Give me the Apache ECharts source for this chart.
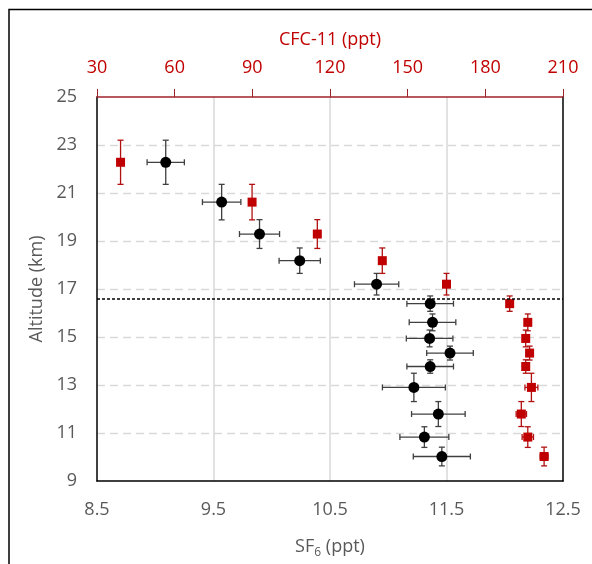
<!DOCTYPE html>
<html>
<head>
<meta charset="utf-8">
<script src="https://cdn.jsdelivr.net/npm/echarts@6/dist/echarts.min.js"></script>
<style>
  html, body { margin: 0; padding: 0; background: #fff; }
  #chart { width: 592px; height: 564px; }
</style>
</head>
<body>
<div id="chart"></div>
<script>
// altitude of each sample (km), shared by both tracers
const altitudes = [22.28, 20.62, 19.29, 18.18, 17.2, 16.39, 15.61, 14.94, 14.33, 13.77, 12.9, 11.79, 10.83, 10.02]
const altErr = [0.92, 0.74, 0.6, 0.53, 0.45, 0.32, 0.35, 0.35, 0.29, 0.28, 0.59, 0.52, 0.43, 0.39]
// SF6 (ppt)
const sf6 = [9.09, 9.57, 9.895, 10.24, 10.9, 11.36, 11.38, 11.355, 11.53, 11.36, 11.22, 11.43, 11.31, 11.46]
const sf6Err = [0.16, 0.165, 0.172, 0.177, 0.19, 0.2, 0.2, 0.2, 0.2, 0.2, 0.27, 0.23, 0.21, 0.245]
// CFC-11 (ppt)
const cfc11 = [39.1, 89.9, 115.1, 140.2, 165, 189.4, 196.4, 195.6, 197.1, 195.6, 197.8, 193.9, 196.4, 202.7]
const cfcErr = [1, 1, 1, 1, 1, 1.2, 1.2, 1.2, 1.2, 1.2, 2.5, 2, 2.2, 1.5]
const tropopause = 16.6

const sf6Ticks = [8.5, 9.5, 10.5, 11.5, 12.5]
const altTicks = [9, 11, 13, 15, 17, 19, 21, 23, 25]

const FONT = 'Open Sans'
const GREY = '#595959'
const RED = '#c00000'

const sf6Points = sf6.map((v, i) => [v, altitudes[i]])
const cfcPoints = cfc11.map((v, i) => [v, altitudes[i]])
const sf6Bars = sf6.map((v, i) => [v, altitudes[i], sf6Err[i], altErr[i]])
const cfcBars = cfc11.map((v, i) => [v, altitudes[i], cfcErr[i], altErr[i]])

function errorBars(color) {
    return function (params, api) {
        const x = api.value(0), y = api.value(1)
        const ex = api.value(2), ey = api.value(3)
        const c = api.coord([x, y])
        const l = api.coord([x - ex, y])
        const r = api.coord([x + ex, y])
        const t = api.coord([x, y + ey])
        const b = api.coord([x, y - ey])
        const cap = 3
        const style = { stroke: color, lineWidth: 1.3 }
        const line = (x1, y1, x2, y2) => ({ type: 'line', shape: { x1, y1, x2, y2 }, style })
        return {
            type: 'group',
            children: [
                line(l[0], c[1], r[0], c[1]),
                line(l[0], c[1] - cap, l[0], c[1] + cap),
                line(r[0], c[1] - cap, r[0], c[1] + cap),
                line(c[0], t[1], c[0], b[1]),
                line(c[0] - cap, t[1], c[0] + cap, t[1]),
                line(c[0] - cap, b[1], c[0] + cap, b[1])
            ]
        }
    }
}

const chart = echarts.init(document.getElementById('chart'))
chart.setOption({
    animation: false,
    textStyle: { fontFamily: FONT },
    graphic: [{
        type: 'rect',
        shape: { x: 9, y: 9.5, width: 700, height: 700 },
        style: { fill: 'none', stroke: '#000', lineWidth: 1.5 },
        silent: true
    }],
    grid: { left: 97, right: 29, top: 97, bottom: 81 },
    xAxis: [
        {
            type: 'value',
            position: 'bottom',
            min: 8.5,
            max: 12.5,
            name: '{a|SF}{s|6}{a| (ppt)}',
            nameLocation: 'middle',
            nameGap: 54,
            nameTextStyle: {
                rich: {
                    a: { fontSize: 18, color: GREY, fontFamily: FONT },
                    s: { fontSize: 12, color: GREY, fontFamily: FONT, verticalAlign: 'bottom', padding: [12, 0, 0, 0] }
                }
            },
            axisLine: { lineStyle: { color: '#000', width: 1.5 } },
            axisTick: { show: false, customValues: [9.5, 10.5, 11.5] },
            axisLabel: { customValues: sf6Ticks, color: GREY, fontSize: 18, margin: 20, formatter: v => v.toFixed(1) },
            splitLine: { show: true, lineStyle: { color: '#d9d9d9', width: 1.5 } }
        },
        {
            type: 'value',
            position: 'top',
            min: 30,
            max: 210,
            interval: 30,
            name: 'CFC-11 (ppt)',
            nameLocation: 'middle',
            nameGap: 48,
            nameTextStyle: { color: RED, fontSize: 18 },
            axisLine: { lineStyle: { color: '#a0202a', width: 1.5 } },
            axisTick: { show: true, inside: false, length: 8, lineStyle: { color: '#a0202a', width: 1 } },
            axisLabel: { color: RED, fontSize: 18, margin: 20 },
            splitLine: { show: false }
        }
    ],
    yAxis: [
        {
            type: 'value',
            position: 'left',
            min: 9,
            max: 25,
            name: 'Altitude (km)',
            nameLocation: 'middle',
            nameGap: 47,
            nameTextStyle: { color: GREY, fontSize: 18 },
            axisLine: { show: true, lineStyle: { color: '#000', width: 1.5 } },
            axisTick: { show: false, customValues: [11, 13, 15, 17, 19, 21, 23] },
            axisLabel: { customValues: altTicks, color: GREY, fontSize: 18, margin: 20 },
            splitLine: { show: true, lineStyle: { color: '#d9d9d9', width: 1.3, type: [8, 5] } }
        },
        {
            type: 'value',
            position: 'right',
            min: 9,
            max: 25,
            axisLine: { show: true, lineStyle: { color: '#000', width: 1.5 } },
            axisTick: { show: false },
            axisLabel: { show: false },
            splitLine: { show: false }
        }
    ],
    series: [
        {
            name: 'SF6 error',
            type: 'custom',
            xAxisIndex: 0,
            yAxisIndex: 0,
            renderItem: errorBars('#404040'),
            data: sf6Bars,
            z: 3,
            markLine: {
                silent: true,
                symbol: 'none',
                label: { show: false },
                lineStyle: { color: '#000', type: [3, 2], width: 1.5 },
                data: [{ yAxis: tropopause }]
            }
        },
        {
            name: 'CFC-11 error',
            type: 'custom',
            xAxisIndex: 1,
            yAxisIndex: 0,
            renderItem: errorBars('#b01010'),
            data: cfcBars,
            z: 3
        },
        {
            name: 'SF6',
            type: 'scatter',
            xAxisIndex: 0,
            yAxisIndex: 0,
            symbol: 'circle',
            symbolSize: 11,
            itemStyle: { color: '#000', opacity: 1 },
            data: sf6Points,
            z: 4
        },
        {
            name: 'CFC-11',
            type: 'scatter',
            xAxisIndex: 1,
            yAxisIndex: 0,
            symbol: 'rect',
            symbolSize: 9,
            itemStyle: { color: RED, opacity: 1 },
            data: cfcPoints,
            z: 4
        }
    ]
})
</script>
</body>
</html>
